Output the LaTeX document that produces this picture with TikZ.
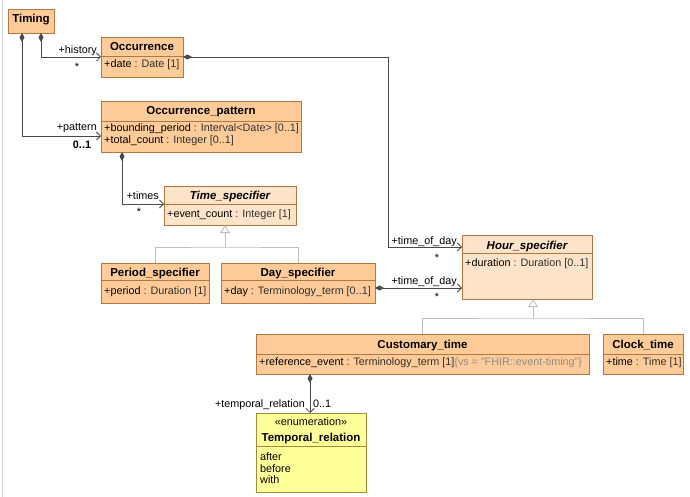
\documentclass[tikz,border=0pt]{standalone}
\usepackage{fontspec}
\setmainfont{Liberation Sans}
\usetikzlibrary{arrows.meta,calc}
\definecolor{clsfill}{HTML}{FFCC99}
\definecolor{absfill}{HTML}{FFE4C9}
\definecolor{clsborder}{HTML}{B5763F}
\definecolor{enumfill}{HTML}{FFFF99}
\definecolor{enumborder}{HTML}{A58A3C}
\definecolor{assocline}{HTML}{4A4A4A}
\definecolor{genline}{HTML}{BDBDBD}
\definecolor{typegrey}{HTML}{303030}
\definecolor{vsgrey}{HTML}{8C8C8C}
\definecolor{framegrey}{HTML}{D8D8D8}

\tikzset{
 cls/.style={draw=clsborder, fill=clsfill, line width=0.8pt, inner sep=0pt, outer sep=0pt},
 abscls/.style={cls, fill=absfill},
 enumcls/.style={draw=enumborder, fill=enumfill, line width=0.8pt, inner sep=0pt, outer sep=0pt},
 clsname/.style={font=\fontsize{11.5}{13}\selectfont\bfseries, inner sep=0pt, anchor=base},
 absname/.style={clsname, font=\fontsize{11.5}{13}\selectfont\bfseries\itshape},
 attr/.style={font=\fontsize{10.8}{12.5}\selectfont, inner sep=0pt, anchor=base west},
 rolelbl/.style={font=\fontsize{10.8}{12.5}\selectfont, inner sep=0pt, anchor=base east},
 multlbl/.style={font=\fontsize{10.8}{12.5}\selectfont, inner sep=0pt},
 assoc/.style={draw=assocline, line width=0.8pt, {Diamond[length=9pt,width=5pt]}-{Straight Barb[length=4pt,width=8pt]}},
 genl/.style={draw=genline, line width=0.9pt},
 genarrow/.style={genl, -{Triangle[open, length=8pt, width=10pt, fill=white]}},
}

\newcommand{\umlbox}[7]{%
 \node[#7, minimum width=#4pt, minimum height=#5pt, anchor=north west] (#1) at (#2,#3) {};
 \draw[#7, fill=none] ([yshift=-#6pt]#1.north west) -- ([yshift=-#6pt]#1.north east);
}

\begin{document}
\begin{tikzpicture}[x=1pt,y=-1pt]
\useasboundingbox (0,0) rectangle (690,497);
\draw[framegrey, line width=0.8pt] (2.5,0) -- (2.5,497);

% ---------- classes ----------
\node[cls, minimum width=46pt, minimum height=24pt, anchor=north west] (timing) at (8,9) {};
\node[clsname] (timing-name) at ($(timing.north)+(0,13.5)$) {Timing};

\umlbox{occ}{101}{37}{82}{40}{19}{cls}
\node[clsname] (occ-name) at ($(occ.north)+(0,13.5)$) {Occurrence};
\node[attr] (occ-a1) at ($(occ.north west)+(3,31)$) {+date \textcolor{typegrey}{: Date [1]}};

\umlbox{opat}{101}{101}{200}{51}{20}{cls}
\node[clsname] (opat-name) at ($(opat.north)+(0,13.5)$) {Occurrence\_pattern};
\node[attr] (opat-a1) at ($(opat.north west)+(3,31)$) {+bounding\_period \textcolor{typegrey}{: Interval<Date> [0..1]}};
\node[attr] (opat-a2) at ($(opat.north west)+(3,43)$) {+total\_count \textcolor{typegrey}{: Integer [0..1]}};

\umlbox{tspec}{164}{186}{132}{39}{18}{abscls}
\node[absname] (tspec-name) at ($(tspec.north)+(0,13.5)$) {Time\_specifier};
\node[attr] (tspec-a1) at ($(tspec.north west)+(3,31)$) {+event\_count \textcolor{typegrey}{: Integer [1]}};

\umlbox{period}{101}{263}{108}{40}{17}{cls}
\node[clsname] (period-name) at ($(period.north)+(0,13.5)$) {Period\_specifier};
\node[attr] (period-a1) at ($(period.north west)+(3,31)$) {+period \textcolor{typegrey}{: Duration [1]}};

\umlbox{day}{221}{263}{154}{40}{17}{cls}
\node[clsname] (day-name) at ($(day.north)+(0,13.5)$) {Day\_specifier};
\node[attr] (day-a1) at ($(day.north west)+(3,31)$) {+day \textcolor{typegrey}{: Terminology\_term [0..1]}};

\umlbox{hour}{462}{235}{130}{64}{18}{abscls}
\node[absname] (hour-name) at ($(hour.north)+(0,14)$) {Hour\_specifier};
\node[attr] (hour-a1) at ($(hour.north west)+(3,31)$) {+duration \textcolor{typegrey}{: Duration [0..1]}};

\umlbox{cust}{256}{334}{333}{40}{20}{cls}
\node[clsname] (cust-name) at ($(cust.north)+(0,14)$) {Customary\_time};
\node[attr] (cust-a1) at ($(cust.north west)+(3,31)$) {+reference\_event \textcolor{typegrey}{: Terminology\_term [1]}\textcolor{vsgrey}{\{vs = "FHIR::event-timing"\}}};

\umlbox{clock}{603}{334}{80}{40}{20}{cls}
\node[clsname] (clock-name) at ($(clock.north)+(0,14)$) {Clock\_time};
\node[attr] (clock-a1) at ($(clock.north west)+(3,31)$) {+time \textcolor{typegrey}{: Time [1]}};

\umlbox{trel}{256}{413}{110}{79}{33}{enumcls}
\node[multlbl, anchor=base] (trel-st) at ($(trel.north)+(0,12.5)$) {«enumeration»};
\node[clsname] (trel-name) at ($(trel.north)+(0,28)$) {Temporal\_relation};
\node[attr] (trel-l1) at ($(trel.north west)+(4,47)$) {after};
\node[attr] (trel-l2) at ($(trel.north west)+(4,59)$) {before};
\node[attr] (trel-l3) at ($(trel.north west)+(4,70)$) {with};

% ---------- associations ----------
\coordinate (bendA) at (388,57);
\draw[assoc] ([xshift=33pt]timing.south west) |- (occ.west);
\draw[assoc] ([xshift=14pt]timing.south west) |- ([yshift=-9.5pt]opat.west);
\draw[assoc] (occ.east) -- (bendA) |- ([yshift=20pt]hour.west);
\draw[assoc] ([xshift=21pt]opat.south west) |- ([yshift=1.5pt]tspec.west);
\draw[assoc] ([yshift=-5pt]day.east) -- ([yshift=-21pt]hour.west);
\draw[assoc] ([xshift=54pt]cust.south west) -- ([xshift=54pt]trel.north west);

% ---------- generalizations ----------
\coordinate (g1) at (225,247);
\draw[genl] (period.north) |- (g1) -| (day.north);
\draw[genarrow] (g1) -- (g1 |- tspec.south);
\coordinate (g2) at (533,318);
\draw[genl] (cust.north) |- (g2) -| (clock.north);
\draw[genarrow] (g2) -- (g2 |- hour.south);

% ---------- labels ----------
\node[rolelbl] (l-hist) at (97,54) {+history};
\node[multlbl] (m-hist) at (77,67) {*};
\node[rolelbl] (l-pat) at (97,131) {+pattern};
\node[multlbl, anchor=base, font=\fontsize{10.8}{12.5}\selectfont\bfseries] (m-pat) at (82,149) {0..1};
\node[rolelbl] (l-times) at (159,199) {+times};
\node[multlbl] (m-times) at (139,212) {*};
\node[rolelbl] (l-tod1) at (457,244) {+time\_of\_day};
\node[multlbl] (m-tod1) at (437,258) {*};
\node[rolelbl] (l-tod2) at (457,284) {+time\_of\_day};
\node[multlbl] (m-tod2) at (437,297) {*};
\node[rolelbl] (l-trel) at (305,407) {+temporal\_relation};
\node[attr] (m-trel) at (313,407) {0..1};
\end{tikzpicture}
\end{document}
